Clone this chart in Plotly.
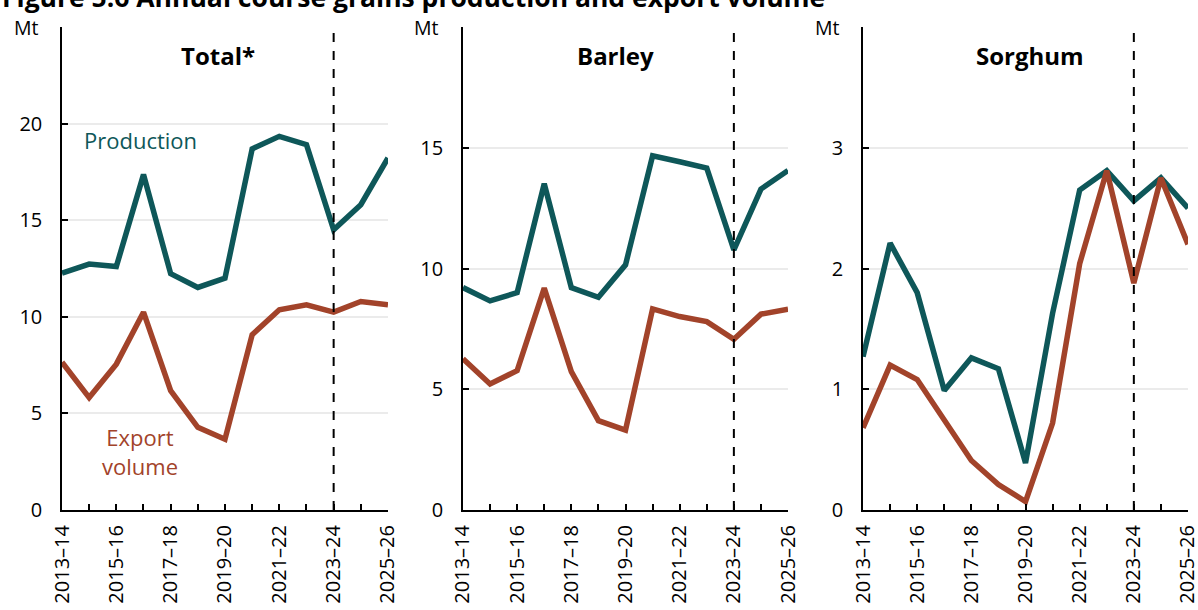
import plotly.graph_objects as go
from plotly.subplots import make_subplots

years = ["2013–14", "2014–15", "2015–16", "2016–17", "2017–18", "2018–19", "2019–20",
         "2020–21", "2021–22", "2022–23", "2023–24", "2024–25", "2025–26"]

total_prod = [12.26, 12.73, 12.6, 17.36, 12.23, 11.52, 12.0, 18.69, 19.34, 18.91, 14.5, 15.8, 18.22]
total_exp = [7.65, 5.82, 7.55, 10.24, 6.18, 4.28, 3.66, 9.07, 10.36, 10.62, 10.24, 10.79, 10.62]

barley_prod = [9.21, 8.66, 9.0, 13.51, 9.21, 8.81, 10.15, 14.67, 14.42, 14.16, 10.77, 13.29, 14.06]
barley_exp = [6.26, 5.22, 5.77, 9.19, 5.73, 3.70, 3.31, 8.33, 8.01, 7.80, 7.07, 8.11, 8.31]

sorghum_prod = [1.27, 2.21, 1.80, 0.99, 1.26, 1.17, 0.39, 1.63, 2.65, 2.81, 2.56, 2.75, 2.50]
sorghum_exp = [0.68, 1.20, 1.08, 0.74, 0.41, 0.21, 0.07, 0.72, 2.04, 2.81, 1.88, 2.75, 2.20]

panels = ["Total*", "Barley", "Sorghum"]
y_ticks = [[0, 5, 10, 15, 20, 25], [0, 5, 10, 15, 20], [0, 1, 2, 3, 4]]

teal = "#0E5759"
rust = "#A2432A"
font = "Open Sans, sans-serif"

fig = make_subplots(rows=1, cols=3)

series = [(total_prod, total_exp), (barley_prod, barley_exp), (sorghum_prod, sorghum_exp)]
for i, (prod, exp) in enumerate(series):
    fig.add_trace(go.Scatter(x=years, y=prod, mode="lines", line=dict(color=teal, width=5.5),
                             showlegend=False), row=1, col=i + 1)
    fig.add_trace(go.Scatter(x=years, y=exp, mode="lines", line=dict(color=rust, width=5.5),
                             showlegend=False), row=1, col=i + 1)

domains = [[0, 0.2895], [0.3561, 0.6448], [0.7114, 1.0]]
ticktext = [y if k % 2 == 0 else "" for k, y in enumerate(years)]

for i in range(3):
    n = "" if i == 0 else str(i + 1)
    tv = y_ticks[i]
    fig.layout["xaxis" + n].update(
        domain=domains[i], type="category", range=[0, len(years) - 1], automargin=False,
        tickmode="array", tickvals=years, ticktext=ticktext, tickangle=-90,
        ticks="inside", ticklen=6, tickcolor="black", tickwidth=1.5,
        showline=True, linecolor="black", linewidth=2, showgrid=False,
        tickfont=dict(family=font, size=20, color="black"), ticklabelstandoff=5,
    )
    fig.layout["yaxis" + n].update(
        range=[0, tv[-1]], automargin=False,
        tickmode="array", tickvals=tv, ticktext=[str(v) for v in tv[:-1]] + [""],
        ticks="inside", ticklen=6, tickcolor="black", tickwidth=1.5,
        showline=True, linecolor="black", linewidth=1.5,
        showgrid=True, gridcolor="#EBEBEB", gridwidth=1.5, zeroline=False,
        tickfont=dict(family=font, size=20, color="black"), ticklabelstandoff=14,
    )
    # forecast divider
    fig.add_shape(type="line", xref="x" + n, yref="y" + n + " domain",
                  x0=years.index("2023–24"), x1=years.index("2023–24"), y0=0, y1=1,
                  line=dict(color="black", width=2, dash="dash"))
    fig.add_annotation(text="<b>" + panels[i] + "</b>", xref="x" + n + " domain",
                       yref="y" + n + " domain", x=[0.479, 0.468, 0.514][i], y=0.942,
                       xanchor="center", yanchor="middle",
                       showarrow=False, font=dict(family=font, size=24, color="black"))
    fig.add_annotation(text="Mt", xref="x" + n + " domain", yref="y" + n + " domain",
                       x=[-0.110, -0.111, -0.108][i], y=0.999, xanchor="center", yanchor="middle",
                       showarrow=False, font=dict(family=font, size=19.5, color="black"))

fig.add_annotation(text="Production", xref="x domain", yref="y domain", x=0.242, y=0.766,
                   xanchor="center", yanchor="middle",
                   showarrow=False, font=dict(family=font, size=22, color=teal))
fig.add_annotation(text="Export<br>volume", xref="x domain", yref="y domain", x=0.239, y=0.122,
                   xanchor="center", yanchor="middle",
                   showarrow=False, font=dict(family=font, size=22, color=rust))

fig.add_annotation(text="<b>Figure 5.6 Annual course grains production and export volume</b>",
                   xref="paper", yref="paper", x=-0.055, y=1.021, xanchor="left", yanchor="bottom",
                   showarrow=False, font=dict(family=font, size=26.5, color="black"))

fig.update_layout(
    width=1198, height=610,
    margin=dict(l=62, r=10, t=27, b=100),
    paper_bgcolor="white", plot_bgcolor="white",
    font=dict(family=font),
)

fig.write_html("out.html", config={"displayModeBar": False},
               post_script="document.body.style.margin='0px';")
